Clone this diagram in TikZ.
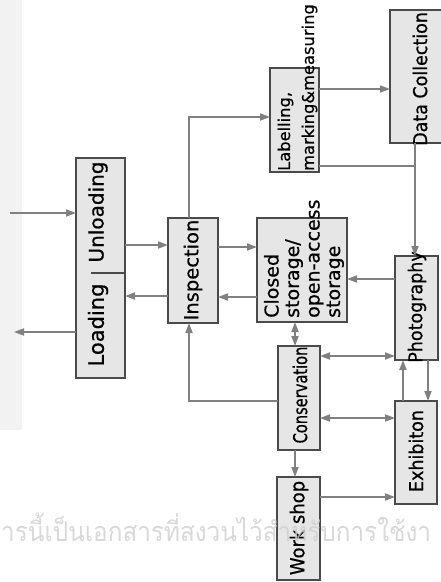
\documentclass[tikz,border=0pt]{standalone}
\usepackage{fontspec}
\setmainfont{DejaVu Sans}[FakeBold=0.6]
\newfontfamily\fA{DejaVu Sans}[FakeStretch=0.92, FakeBold=0.6]
\newfontfamily\fC{DejaVu Sans}[FakeStretch=0.77, FakeBold=0.6]
\newfontfamily\thaifont{Loma}[Script=Thai, FakeStretch=0.9]
\usetikzlibrary{arrows.meta}
\definecolor{boxfill}{HTML}{E6E6E6}
\definecolor{boxline}{HTML}{4A4A4A}
\definecolor{arrcol}{HTML}{808080}
\definecolor{wmark}{HTML}{CFCFCF}
\tikzset{
  box/.style={draw=boxline, fill=boxfill, line width=1.2pt, inner sep=0pt, outer sep=0pt},
  lbl/.style={rotate=90, inner sep=0pt, text=black},
  conn/.style={draw=arrcol, line width=1.7pt},
  arr/.style={conn, -{Triangle[length=10pt,width=7pt]}},
  darr/.style={conn, {Triangle[length=10pt,width=7pt]}-{Triangle[length=10pt,width=7pt]}},
}
\begin{document}
\begin{tikzpicture}[x=1pt,y=-1pt]
\useasboundingbox (0,0) rectangle (441,582);
\clip (0,0) rectangle (441,582);
% scan strip
\fill[gray!10] (0,0) rectangle (22,430);
% boxes
\node[box, minimum width=49pt, minimum height=220pt] (lu) at (100.5,268) {};
\node[box, minimum width=50pt, minimum height=105pt] (insp) at (193,270.5) {};
\node[box, minimum width=90pt, minimum height=104pt] (cls) at (302,270) {};
\node[box, minimum width=43pt, minimum height=104pt] (pho) at (416.5,308) {};
\node[box, minimum width=60pt, minimum height=133pt] (dat) at (420,76.5) {};
\node[box, minimum width=49pt, minimum height=104pt] (lab) at (294.5,120) {};
\node[box, minimum width=42pt, minimum height=104pt] (con) at (299,398) {};
\node[box, minimum width=42pt, minimum height=103pt] (exh) at (416,452.5) {};
\node[box, minimum width=43pt, minimum height=103pt] (wrk) at (298.5,528.5) {};
% texts
\node[lbl, font=\fontsize{21}{24}\selectfont] (lut1) at (98,325) {Loading};
\node[lbl, font=\fontsize{20}{24}\selectfont] (lut2) at (98,212) {Unloading};
\coordinate (divl) at (91,273);
\draw[boxline, line width=1.2pt] (divl) -- (divl -| lu.east);
\node[lbl, font=\fontsize{19.5}{22}\selectfont] (inspt) at (193,270) {Inspection};
\node[lbl, anchor=west, align=left, font=\fontsize{19}{20.5}\selectfont] (clst) at (304,318) {Closed\\storage/\\open-access\\storage};
\node[lbl, font=\fA\fontsize{19}{20}\selectfont] (phot) at (417,307) {Photography};
\node[lbl, anchor=west, font=\fA\fontsize{19}{20}\selectfont] (datt) at (420,146) {Data Collection};
\node[lbl, anchor=west, align=left, font=\fontsize{16.3}{24}\selectfont] (labt) at (297.5,171) {Labelling,\\marking\&measuring};
\node[lbl, font=\fC\fontsize{19}{20}\selectfont] (cont) at (300,395) {Conservation};
\node[lbl, font=\fA\fontsize{19}{20}\selectfont] (exht) at (416,451) {Exhibiton};
\node[lbl, font=\fA\fontsize{19.5}{20}\selectfont] (wrkt) at (299,528) {Work shop};
% free ends
\coordinate (inend) at (10,213);
\coordinate (outend) at (14,332);
\coordinate (c1) at (189,401);
\coordinate (c2) at (189,117);
\coordinate (j1) at (415,166);
% connectors
\draw[arr] (inend) -- (inend -| lu.west);
\draw[arr] (outend -| lu.west) -- (outend);
\draw[arr] (lu.east |- 0,245) -- (insp.west |- 0,245);
\draw[arr] (insp.west |- 0,296) -- (lu.east |- 0,296);
\draw[arr] (insp.east |- 0,247) -- (cls.west |- 0,247);
\draw[arr] (cls.west |- 0,297) -- (insp.east |- 0,297);
\draw[arr] (pho.west |- 0,279) -- (cls.east |- 0,279);
\draw[darr] (cls.south -| 295,0) -- (con.north -| 295,0);
\draw[darr] (con.east |- 0,356) -- (pho.west |- 0,356);
\draw[arr] (con.west |- c1) -- (c1) -- (insp.south -| c1);
\draw[darr] (con.east |- 0,418) -- (exh.west |- 0,418);
\draw[arr] (exh.north -| 403,0) -- (pho.south -| 403,0);
\draw[arr] (pho.south -| 428,0) -- (exh.north -| 428,0);
\draw[arr] (con.south -| 295,0) -- (wrk.north -| 295,0);
\draw[arr] (wrk.east |- 0,497) -- (exh.west |- 0,497);
\draw[arr] (insp.north -| c2) -- (c2) -- (lab.west |- c2);
\draw[arr] (lab.east |- 0,89) -- (dat.west |- 0,89);
\draw[conn] (lab.east |- j1) -- (j1);
\draw[arr] (dat.south -| j1) -- (pho.north -| j1);
% watermark
\node[anchor=base west, inner sep=0pt, text=wmark, opacity=0.8, font=\thaifont\fontsize{27}{30}\selectfont] (wm) at (1,541) {ารนี้เป็นเอกสารที่สงวนไว้สำหรับการใช้งา};
\end{tikzpicture}
\end{document}
